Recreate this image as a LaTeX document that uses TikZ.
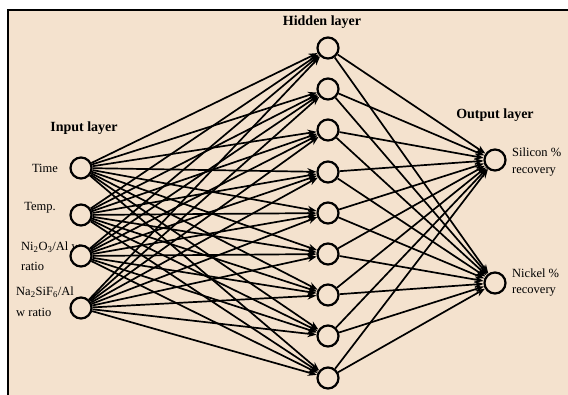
\documentclass[tikz,border=0pt]{standalone}
\usepackage{fontspec}
\setmainfont{Liberation Serif}
\usetikzlibrary{arrows.meta}
\definecolor{bg}{HTML}{F4E2CE}
\begin{document}
\begin{tikzpicture}[x=1pt,y=-1pt,
 neuron/.style={circle,draw,line width=2.2pt,minimum size=21pt,inner sep=0pt,fill=bg},
 conn/.style={line width=1.7pt,-{Stealth[length=9pt,width=7pt]}},
 lab/.style={font=\fontsize{12.5}{12.5}\selectfont,inner sep=0pt},
 ttl/.style={font=\bfseries\fontsize{14}{14}\selectfont,inner sep=0pt}]
\useasboundingbox (0,0) rectangle (568,394);
\fill[white] (0,0) rectangle (568,394);
\filldraw[fill=bg,draw=black,line width=1.5pt] (8,10) rectangle (580,405);
% titles
\node[ttl] (tin) at (84,128) {Input layer};
\node[ttl] (thid) at (322,22) {Hidden layer};
\node[ttl] (tout) at (495,115) {Output layer};
% input labels
\node[lab] (l1) at (45,168) {Time};
\node[lab] (l2) at (40,208) {Temp.};
\node[lab,anchor=west] (l3a) at (21,247) {Ni\textsubscript{2}O\textsubscript{3}/Al w};
\node[lab,anchor=west] (l3b) at (21,266) {ratio};
\node[lab,anchor=west] (l4a) at (16,292) {Na\textsubscript{2}SiF\textsubscript{6}/Al};
\node[lab,anchor=west] (l4b) at (16,312) {w ratio};
% output labels
\node[lab,anchor=west] (o1a) at (512,152) {Silicon \%};
\node[lab,anchor=west] (o1b) at (512,172) {recovery};
\node[lab,anchor=west] (o2a) at (512,273) {Nickel \%};
\node[lab,anchor=west] (o2b) at (512,292) {recovery};
% neurons
\node[neuron] (i1) at (81,168) {};
\node[neuron] (i2) at (81,215) {};
\node[neuron] (i3) at (81,256) {};
\node[neuron] (i4) at (81,308) {};
\foreach \k/\yy in {1/48,2/89,3/130,4/172,5/213,6/254,7/295,8/336,9/378}
  \node[neuron] (h\k) at (328,\yy) {};
\node[neuron] (o1) at (495,160) {};
\node[neuron] (o2) at (495,283) {};
% connections
\foreach \i in {1,...,4}
  \foreach \k in {1,...,9}
    \draw[conn] (i\i) -- (h\k);
\foreach \k in {1,...,9}
  \foreach \j in {1,2}
    \draw[conn] (h\k) -- (o\j);
\end{tikzpicture}
\end{document}
